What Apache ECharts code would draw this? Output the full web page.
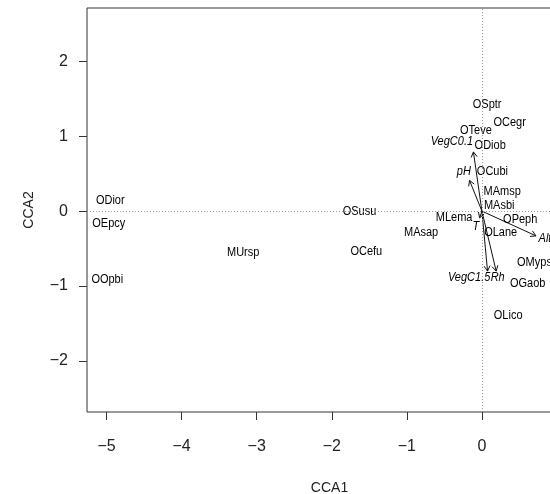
<!DOCTYPE html>
<html>
<head>
<meta charset="utf-8">
<script src="https://cdn.jsdelivr.net/npm/echarts@6/dist/echarts.min.js"></script>
<style>
  html, body { margin: 0; padding: 0; background: #fff; }
  #chart { width: 550px; height: 494px; }
</style>
</head>
<body>
<div id="chart"></div>
<script>
// Site / species scores on the first two constrained axes
const siteNames = ['ODior', 'OEpcy', 'OOpbi', 'MUrsp', 'OSusu', 'OCefu', 'MAsap', 'MLema',
                   'OSptr', 'OCegr', 'OTeve', 'ODiob', 'OCubi', 'MAmsp', 'MAsbi', 'OPeph',
                   'OLane', 'OMyps', 'OGaob', 'OLico'];
const siteX = [-4.95, -4.97, -4.99, -3.18, -1.63, -1.54, -0.81, -0.37,
               0.07, 0.37, -0.08, 0.11, 0.14, 0.27, 0.23, 0.51,
               0.25, 0.70, 0.61, 0.35];
const siteY = [0.14, -0.16, -0.91, -0.55, 0.0, -0.54, -0.28, -0.08,
               1.42, 1.18, 1.08, 0.88, 0.53, 0.26, 0.07, -0.11,
               -0.28, -0.68, -0.96, -1.39];

// Environmental biplot arrows (tips) and their label positions
const envNames = ['VegC0.1', 'pH', 'T', 'Alt', 'VegC1.5', 'Rh'];
const envX = [-0.113, -0.165, -0.03, 0.72, 0.075, 0.19];
const envY = [0.79, 0.41, -0.09, -0.33, -0.80, -0.80];
const envLabelX = [-0.40, -0.24, -0.08, 0.84, -0.17, 0.21];
const envLabelY = [0.93, 0.53, -0.21, -0.36, -0.88, -0.88];

// Axis ticks
const xTicks = [-5, -4, -3, -2, -1, 0];
const yTicks = [-2, -1, 0, 1, 2];

const fmt = v => String(v).replace('-', '\u2212');
const font = '"Liberation Sans", Arial, Helvetica, sans-serif';

const siteData = siteNames.map((n, i) => ({ name: n, value: [siteX[i], siteY[i]] }));
const envArrowData = envNames.map((n, i) => ({ name: n, value: [envX[i], envY[i]] }));
const envLabelData = envNames.map((n, i) => ({ name: n, value: [envLabelX[i], envLabelY[i]] }));

function renderArrow(params, api) {
  const p0 = api.coord([0, 0]);
  const p1 = api.coord([api.value(0), api.value(1)]);
  const ang = Math.atan2(p1[1] - p0[1], p1[0] - p0[0]);
  const L = 6, a = Math.PI / 6;
  const h1 = [p1[0] - L * Math.cos(ang - a), p1[1] - L * Math.sin(ang - a)];
  const h2 = [p1[0] - L * Math.cos(ang + a), p1[1] - L * Math.sin(ang + a)];
  const st = { stroke: '#111', lineWidth: 1, fill: null };
  return {
    type: 'group',
    children: [
      { type: 'line', shape: { x1: p0[0], y1: p0[1], x2: p1[0], y2: p1[1] }, style: st },
      { type: 'polyline', shape: { points: [h1, p1, h2] }, style: st }
    ]
  };
}

// Centred, slightly condensed text labels at score positions
function makeLabelRenderer(names, italic) {
  return function (params, api) {
    const p = api.coord([api.value(0), api.value(1)]);
    return {
      type: 'text', x: p[0], y: p[1], scaleX: 0.88, scaleY: 1,
      style: {
        text: names[params.dataIndex],
        font: (italic ? 'italic ' : '') + '12.5px ' + font,
        fill: '#000', align: 'center', verticalAlign: 'middle'
      }
    };
  };
}

const chart = echarts.init(document.getElementById('chart'), null, { renderer: 'canvas' });
chart.setOption({
  animation: false,
  backgroundColor: '#fff',
  grid: {
    left: 87, top: 8, width: 485, height: 404,
    outerBoundsMode: 'none', containLabel: false,
    show: true, borderColor: '#333', borderWidth: 1, backgroundColor: 'transparent'
  },
  xAxis: {
    type: 'value', min: -5.26, max: 1.2,
    name: 'CCA1', nameLocation: 'middle', nameGap: 69,
    nameTextStyle: { fontFamily: font, fontSize: 14, color: '#222' },
    axisLine: { show: false, onZero: false },
    splitLine: { show: false },
    axisTick: { show: true, length: 8, lineStyle: { color: '#333' }, customValues: xTicks },
    axisLabel: { fontFamily: font, fontSize: 16, color: '#222', margin: 27,
                 customValues: xTicks, formatter: fmt }
  },
  yAxis: {
    type: 'value', min: -2.68, max: 2.71,
    name: 'CCA2', nameLocation: 'middle', nameGap: 51, nameRotate: 90,
    nameTextStyle: { fontFamily: font, fontSize: 14, color: '#222' },
    axisLine: { show: false, onZero: false },
    splitLine: { show: false },
    axisTick: { show: true, length: 8, lineStyle: { color: '#333' }, customValues: yTicks },
    axisLabel: { fontFamily: font, fontSize: 16, color: '#222', margin: 19,
                 customValues: yTicks, formatter: fmt }
  },
  series: [
    {
      // dotted reference lines through the origin
      type: 'scatter', data: [], silent: true,
      markLine: {
        silent: true, symbol: 'none', label: { show: false },
        lineStyle: { color: '#999', type: [1, 2], width: 1 },
        data: [{ xAxis: 0 }, { yAxis: 0 }]
      }
    },
    {
      type: 'custom', renderItem: renderArrow, data: envArrowData, silent: true, z: 3
    },
    {
      type: 'custom', renderItem: makeLabelRenderer(siteNames, false),
      data: siteData, silent: true, z: 4
    },
    {
      type: 'custom', renderItem: makeLabelRenderer(envNames, true),
      data: envLabelData, silent: true, z: 4
    }
  ]
});
</script>
</body>
</html>
